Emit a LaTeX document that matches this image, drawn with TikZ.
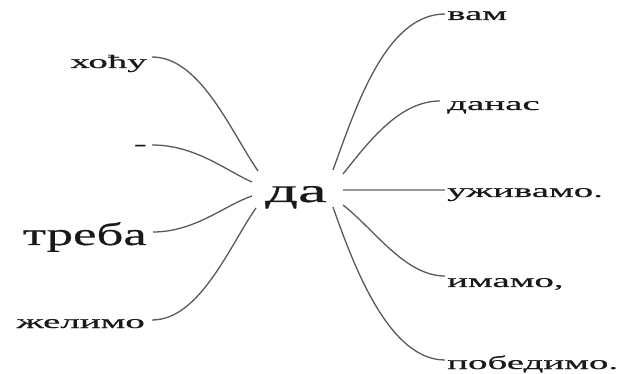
\documentclass[tikz,border=0pt]{standalone}
\usepackage{fontspec}
\setmainfont{Liberation Serif}[FakeBold=0.4]
\begin{document}
\begin{tikzpicture}[x=1pt,y=-1pt,
  word/.style={inner sep=0pt,text=black!90},
  small/.style={word,font=\fontsize{19}{19}\selectfont},
  link/.style={draw=black!65,line width=1.3pt},
  flat/.style={draw=black!40,line width=2pt}]
\useasboundingbox (0,0) rectangle (632,374);
% centre
\node[word,anchor=base west,font=\fontsize{34}{34}\selectfont] (da) at (265,202) {\scalebox{1.9}[1]{да}};
% left words
\node[small,anchor=base east] (hocu) at (147,68) {\scalebox{2.05}[1]{хоћу}};
\node[small,anchor=base east] (dash) at (147,150) {\scalebox{2.05}[1]{-}};
\node[word,anchor=base east,font=\fontsize{32}{32}\selectfont] (treba) at (147,245) {\scalebox{1.65}[1]{треба}};
\node[small,anchor=base east] (zelimo) at (145,328) {\scalebox{2.05}[1]{желимо}};
% right words
\node[small,anchor=base west] (vam) at (447,20) {\scalebox{2.05}[1]{вам}};
\node[small,anchor=base west] (danas) at (447,110) {\scalebox{2.05}[1]{данас}};
\node[small,anchor=base west] (uzivamo) at (447,197) {\scalebox{2.05}[1]{уживамо.}};
\node[small,anchor=base west] (imamo) at (447,287) {\scalebox{2.05}[1]{имамо,}};
\node[small,anchor=base west] (pobedimo) at (447,369) {\scalebox{2.05}[1]{победимо.}};
% ends near centre
\coordinate (l1) at (258,171);
\coordinate (l2) at (252,182);
\coordinate (l3) at (252,196);
\coordinate (l4) at (256,208);
\coordinate (r1) at (333,170);
\coordinate (r2) at (343,174);
\coordinate (r3) at (343,190);
\coordinate (r4) at (343,205);
\coordinate (r5) at (333,207);
% free ends next to the words
\coordinate (h0) at (152,57);
\coordinate (d0) at (152,145);
\coordinate (t0) at (153,232);
\coordinate (z0) at (152,320);
\coordinate (v0) at (445,14);
\coordinate (n0) at (440,101);
\coordinate (u0) at (445,190);
\coordinate (i0) at (445,276);
\coordinate (p0) at (445,360);
% connectors
\draw[link] (h0) .. controls (200,57) and (230,130) .. (l1);
\draw[link] (d0) .. controls (195,145) and (225,170) .. (l2);
\draw[link] (t0) .. controls (195,232) and (225,205) .. (l3);
\draw[link] (z0) .. controls (200,320) and (230,245) .. (l4);
\draw[link] (r1) .. controls (355,110) and (385,14) .. (v0);
\draw[link] (r2) .. controls (370,140) and (400,101) .. (n0);
\draw[flat] (r3) -- (u0);
\draw[link] (r4) .. controls (375,230) and (405,276) .. (i0);
\draw[link] (r5) .. controls (355,270) and (390,360) .. (p0);
\end{tikzpicture}
\end{document}
